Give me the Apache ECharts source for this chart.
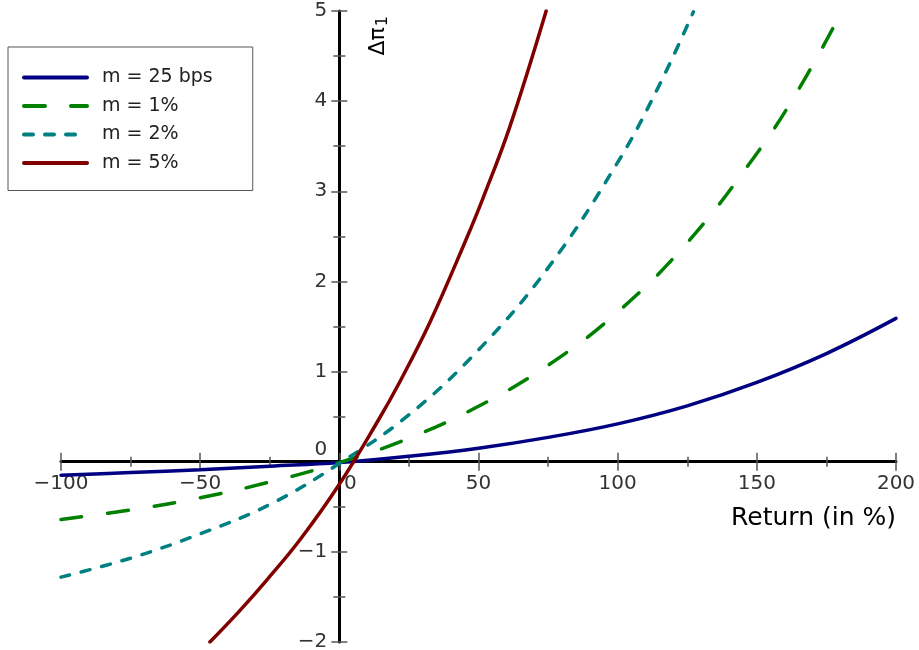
<!DOCTYPE html>
<html>
<head>
<meta charset="utf-8">
<title>Δπ1 vs Return</title>
<script src="https://cdn.jsdelivr.net/npm/echarts@6/dist/echarts.min.js"></script>
<style>
html, body { margin: 0; padding: 0; background: #fff; }
#main { width: 919px; height: 650px; }
</style>
</head>
<body>
<div id="main"></div>
<script>
// values
var seriesNames = ['m = 25 bps', 'm = 1%', 'm = 2%', 'm = 5%'];

var bpsX = [-100, -75, -50, -25, 0, 25, 50, 75, 100, 125, 150, 175, 200];
var bpsY = [-0.15, -0.12, -0.088, -0.05, -0.01, 0.06, 0.15, 0.27, 0.42, 0.62, 0.88, 1.2, 1.59];

var onePctX = [-100, -75, -50, -25, 0, 25, 50, 75, 100, 125, 150, 165, 180.5];
var onePctY = [-0.64, -0.535, -0.40, -0.225, -0.01, 0.26, 0.615, 1.07, 1.66, 2.43, 3.42, 4.13, 4.99];

var twoPctX = [-100, -75, -50, -25, 0, 25, 50, 75, 100, 115, 127.2];
var twoPctY = [-1.28, -1.07, -0.80, -0.475, -0.02, 0.52, 1.24, 2.15, 3.32, 4.18, 4.99];

var fivePctX = [-46.5, -36, -26, -14, 0, 14, 21.8, 32.6, 45.2, 51.7, 61.3, 74.3];
var fivePctY = [-2.0, -1.66, -1.31, -0.86, -0.25, 0.46, 0.89, 1.55, 2.44, 2.93, 3.72, 5.0];

// axis ranges and ticks
var xMin = -100, xMax = 200, xStep = 50;
var yMin = -2, yMax = 5, yStep = 1;

function pairs(xs, ys) {
    return xs.map(function (x, i) { return [x, ys[i]]; });
}
function minus(v) {
    return String(v).replace('-', '\u2212');
}

var myChart = echarts.init(document.getElementById('main'));

var font = 'DejaVu Sans';
var tickStyle = { color: '#555', width: 1.5 };

// plot box in pixels, the axes cross at (0, 0) inside it
var gridLeft = 61, gridRight = 23, gridTop = 11, gridBottom = 8;
var plotW = 919 - gridLeft - gridRight;
var plotH = 650 - gridTop - gridBottom;
var xOff = -plotW * (0 - xMin) / (xMax - xMin);
var yOff = -plotH * (0 - yMin) / (yMax - yMin);

function lineSeries(name, data, color, dash) {
    return {
        name: name,
        type: 'line',
        data: data,
        smooth: 0.4,
        symbol: 'none',
        silent: true,
        lineStyle: { color: color, width: 3.5, type: dash || 'solid', cap: 'round' },
        itemStyle: { color: color }
    };
}

function xAx(main) {
    return {
        type: 'value', min: xMin, max: xMax, interval: xStep,
        position: 'bottom', offset: yOff,
        axisLine: { show: main, onZero: false, lineStyle: { color: '#000', width: 3 } },
        axisTick: { inside: !main, length: 9, lineStyle: tickStyle },
        minorTick: { show: true, splitNumber: 2, length: 5, lineStyle: tickStyle },
        splitLine: { show: false },
        axisLabel: {
            show: main, margin: 12, fontFamily: font, fontSize: 20, color: '#333',
            formatter: function (v) { return v === 0 ? '{z|0}' : minus(v); },
            rich: { z: { fontFamily: font, fontSize: 20, color: '#333', padding: [0, 0, 0, 22] } }
        },
        name: main ? 'Return (in %)' : '',
        nameLocation: 'end',
        nameGap: 0,
        nameMoveOverlap: false,
        nameTextStyle: {
            fontFamily: font, fontSize: 25, color: '#000',
            align: 'right', verticalAlign: 'top', padding: [44, 0, 0, 0]
        }
    };
}

function yAx(main) {
    return {
        type: 'value', min: yMin, max: yMax, interval: yStep,
        position: 'left', offset: xOff,
        axisLine: { show: main, onZero: false, lineStyle: { color: '#000', width: 3 } },
        axisTick: { inside: !main, length: 8, lineStyle: tickStyle },
        minorTick: { show: true, splitNumber: 2, length: 6, lineStyle: tickStyle },
        splitLine: { show: false },
        axisLabel: {
            show: main, margin: 12, fontFamily: font, fontSize: 20, color: '#333',
            formatter: function (v) { return v === 0 ? '{z|0}' : minus(v); },
            rich: { z: { fontFamily: font, fontSize: 20, color: '#333', padding: [0, 0, 24, 0] } }
        },
        name: main ? '{a|Δπ}{s|1}' : '',
        nameLocation: 'end',
        nameRotate: 90,
        nameGap: -5,
        nameMoveOverlap: false,
        nameTextStyle: {
            align: 'right', verticalAlign: 'top', padding: [26, 0, 0, 0],
            rich: {
                a: { fontFamily: font, fontSize: 22, color: '#000' },
                s: { fontFamily: font, fontSize: 16, color: '#000', padding: [10, 0, 0, 1] }
            }
        }
    };
}

var opt = {
    animation: false,
    backgroundColor: '#fff',
    grid: { left: gridLeft, right: gridRight, top: gridTop, bottom: gridBottom, outerBoundsMode: 'none' },
    legend: {
        orient: 'vertical',
        left: 8,
        top: 47,
        data: seriesNames,
        padding: [21, 40, 18, 14],
        itemGap: 9.5,
        itemWidth: 63,
        itemHeight: 14,
        backgroundColor: '#fff',
        borderColor: '#555',
        borderWidth: 1,
        borderRadius: 0,
        selectedMode: false,
        itemStyle: { opacity: 0 },
        lineStyle: { width: 4 },
        textStyle: { fontFamily: font, fontSize: 19, color: '#222', padding: [0, 0, 0, 10] }
    },
    xAxis: [xAx(true), xAx(false)],
    yAxis: [yAx(true), yAx(false)],
    series: [
        lineSeries(seriesNames[0], pairs(bpsX, bpsY), '#000080'),
        lineSeries(seriesNames[1], pairs(onePctX, onePctY), '#008000', [21, 26]),
        lineSeries(seriesNames[2], pairs(twoPctX, twoPctY), '#008080', [9, 12]),
        lineSeries(seriesNames[3], pairs(fivePctX, fivePctY), '#800000')
    ]
};

myChart.setOption(opt);
</script>
</body>
</html>
